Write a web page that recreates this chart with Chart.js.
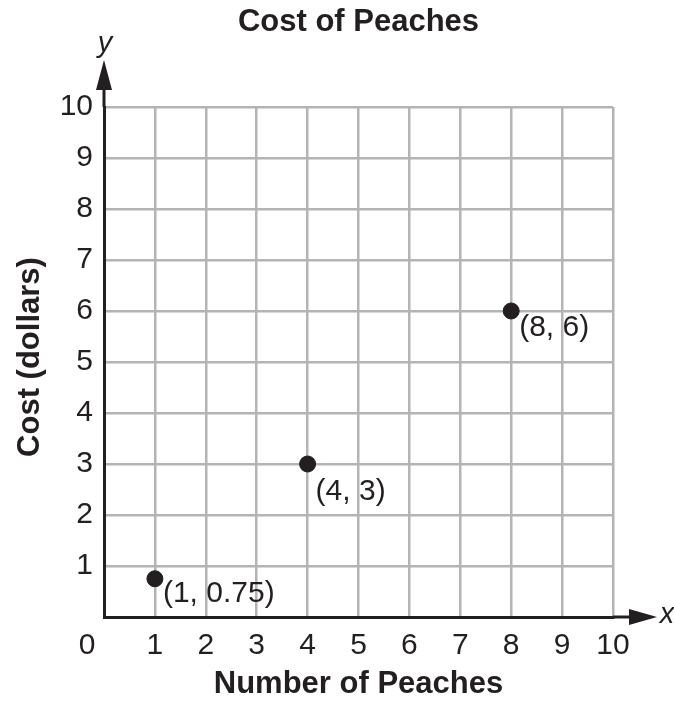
<!DOCTYPE html>
<html>
<head>
<meta charset="utf-8">
<script src="https://cdn.jsdelivr.net/npm/chart.js@4/dist/chart.umd.min.js"></script>
<style>
  html, body { margin: 0; padding: 0; background: #fff; }
  #wrap { width: 674px; height: 702px; }
</style>
</head>
<body>
<div id="wrap"><canvas id="chart" width="674" height="702"></canvas></div>
<script>
// data
const peachCounts = [1, 4, 8];
const costs = [0.75, 3, 6];
const pointLabels = ["(1, 0.75)", "(4, 3)", "(8, 6)"];
const tickValues = [0, 1, 2, 3, 4, 5, 6, 7, 8, 9, 10];

const ink = "#231f20";
const gridGray = "#b4b4b4";
const font = "'Liberation Sans', Arial, Helvetica, sans-serif";

// label offsets from each dot (px)
const labelShift = [[8, 15], [8, 28], [8, 17]];

const extras = {
  id: "extras",
  afterDraw(chart) {
    const ctx = chart.ctx;
    const a = chart.chartArea;
    ctx.save();
    ctx.fillStyle = ink;
    ctx.strokeStyle = ink;

    // arrow on y axis
    ctx.lineWidth = 3;
    ctx.beginPath();
    ctx.moveTo(a.left, a.top);
    ctx.lineTo(a.left, a.top - 20);
    ctx.stroke();
    ctx.beginPath();
    ctx.moveTo(a.left, a.top - 47);
    ctx.lineTo(a.left - 8, a.top - 17);
    ctx.lineTo(a.left + 8, a.top - 17);
    ctx.closePath();
    ctx.fill();

    // arrow on x axis
    ctx.beginPath();
    ctx.moveTo(a.right, a.bottom);
    ctx.lineTo(a.right + 20, a.bottom);
    ctx.stroke();
    ctx.beginPath();
    ctx.moveTo(a.right + 44, a.bottom);
    ctx.lineTo(a.right + 16, a.bottom - 8);
    ctx.lineTo(a.right + 16, a.bottom + 8);
    ctx.closePath();
    ctx.fill();

    // axis letters
    ctx.font = "italic 29px " + font;
    ctx.textAlign = "center";
    ctx.textBaseline = "alphabetic";
    ctx.fillText("y", a.left + 1, 52);
    ctx.fillText("x", a.right + 54, 623);

    // origin zero
    ctx.font = "30px " + font;
    ctx.textBaseline = "middle";
    ctx.fillText("0", 87, 646);

    // titles
    ctx.font = "bold 31px " + font;
    ctx.fillText("Cost of Peaches", (a.left + a.right) / 2, 22);
    ctx.fillText("Number of Peaches", (a.left + a.right) / 2, 684);
    ctx.save();
    ctx.translate(30, 357);
    ctx.rotate(-Math.PI / 2);
    ctx.fillText("Cost (dollars)", 0, 0);
    ctx.restore();

    // point labels
    const xs = chart.scales.x, ys = chart.scales.y;
    ctx.font = "30px " + font;
    ctx.textAlign = "left";
    pointLabels.forEach((t, i) => {
      const px = xs.getPixelForValue(peachCounts[i]);
      const py = ys.getPixelForValue(costs[i]);
      ctx.fillText(t, px + labelShift[i][0], py + labelShift[i][1]);
    });
    ctx.restore();
  }
};

new Chart(document.getElementById("chart"), {
  type: "scatter",
  data: {
    datasets: [{
      data: peachCounts.map((x, i) => ({ x: x, y: costs[i] })),
      backgroundColor: ink,
      borderColor: ink,
      pointRadius: 8,
      pointHoverRadius: 8,
      clip: false
    }]
  },
  options: {
    responsive: false,
    animation: false,
    events: [],
    layout: { padding: { top: 107, right: 61, left: 0, bottom: 0 } },
    plugins: { legend: { display: false }, tooltip: { enabled: false } },
    scales: {
      x: {
        type: "linear",
        min: 0,
        max: 10,
        afterBuildTicks: (s) => { s.ticks = tickValues.map((v) => ({ value: v })); },
        afterFit: (s) => { s.height = 85; },
        grid: { color: gridGray, lineWidth: 2.5, drawTicks: false },
        border: { display: true, color: ink, width: 3 },
        ticks: {
          padding: 11,
          color: ink,
          font: { family: font, size: 30 },
          callback: (v) => (v === 0 ? "" : String(v))
        }
      },
      y: {
        type: "linear",
        min: 0,
        max: 10,
        afterBuildTicks: (s) => { s.ticks = tickValues.map((v) => ({ value: v })); },
        afterFit: (s) => { s.width = 104; },
        grid: { color: gridGray, lineWidth: 2.5, drawTicks: false },
        border: { display: true, color: ink, width: 3 },
        ticks: {
          padding: 11,
          color: ink,
          font: { family: font, size: 30 },
          callback: (v) => (v === 0 ? "" : String(v))
        }
      }
    }
  },
  plugins: [extras]
});
</script>
</body>
</html>
